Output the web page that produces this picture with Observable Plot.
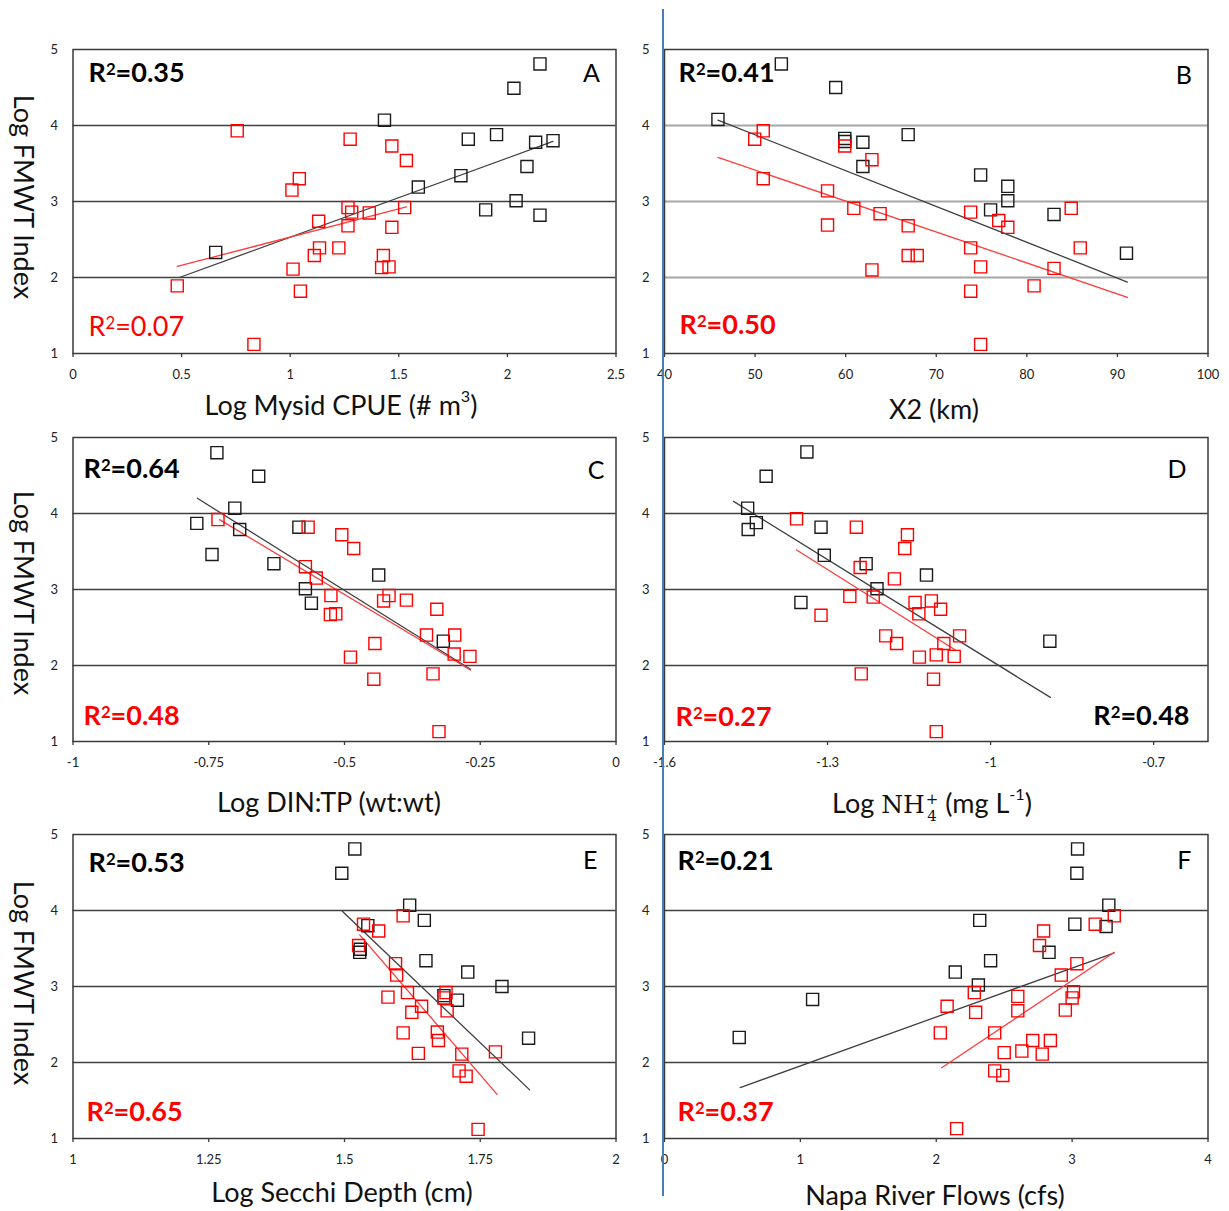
<!DOCTYPE html>
<html><head><meta charset="utf-8">
<script src="https://cdn.jsdelivr.net/npm/d3@7"></script>
<script src="https://cdn.jsdelivr.net/npm/@observablehq/plot@0.6"></script>
<style>
body{margin:0;background:#fff;}
#fig{position:relative;width:1229px;height:1211px;background:#fff;font-family:Lato,"Open Sans",sans-serif;overflow:hidden}
.xt{position:absolute;font-size:27px;color:#111;white-space:nowrap;transform:translate(-50%,-50%);line-height:1}
.yt{position:absolute;font-size:27px;color:#111;white-space:nowrap;transform:translate(-50%,-50%) rotate(90deg);line-height:1}
.xt sup{font-size:0.6em;vertical-align:0.75em;line-height:0}
.m{font-family:"DejaVu Serif","Liberation Serif",serif;font-size:25px}
.ss{display:inline-block;vertical-align:-0.5em;font-size:0.6em;line-height:1.1;text-align:center;margin-left:1px}
.ss span{display:block}
#vline{position:absolute;left:661.7px;top:9px;width:2px;height:1187px;background:#4a7ebb}
</style></head><body><div id="fig"></div><script>
// ---------------- data ----------------
const yTicks = [1, 2, 3, 4, 5];
const gridY = [2, 3, 4];

// Panel A: Log Mysid CPUE
const aXTicks = [0, 0.5, 1, 1.5, 2, 2.5];
const aBlackX = [2.15, 2.03, 1.434, 1.82, 1.95, 2.13, 2.21, 2.09, 1.786, 1.59, 2.04, 1.90, 2.15, 0.657];
const aBlackY = [4.81, 4.49, 4.07, 3.82, 3.88, 3.78, 3.80, 3.46, 3.34, 3.19, 3.01, 2.89, 2.82, 2.33];
const aRedX = [0.756, 1.276, 1.468, 1.535, 1.042, 1.008, 1.266, 1.283, 1.364, 1.527, 1.131, 1.266, 1.468, 1.135, 1.224, 1.111, 1.429, 1.013, 1.421, 1.455, 0.480, 1.047, 0.833];
const aRedY = [3.93, 3.82, 3.73, 3.54, 3.30, 3.15, 2.92, 2.86, 2.85, 2.92, 2.74, 2.68, 2.66, 2.39, 2.39, 2.29, 2.29, 2.11, 2.13, 2.14, 1.89, 1.82, 1.12];
const aBlackFitX = [0.49, 2.21], aBlackFitY = [2.00, 3.79];
const aRedFitX = [0.48, 1.535], aRedFitY = [2.145, 2.93];
const aR2 = ["R²=0.35", "R²=0.07"];

// Panel B: X2 (km)
const bXTicks = [40, 50, 60, 70, 80, 90, 100];
const bBlackX = [52.9, 58.9, 45.9, 59.9, 59.9, 61.9, 66.9, 61.9, 74.9, 77.9, 77.9, 76.0, 83.0, 91.0];
const bBlackY = [4.81, 4.50, 4.08, 3.83, 3.79, 3.78, 3.88, 3.46, 3.35, 3.20, 3.01, 2.89, 2.83, 2.32];
const bRedX = [50.9, 49.96, 59.9, 62.9, 50.9, 58.0, 60.9, 63.8, 58.0, 66.9, 73.8, 76.9, 77.9, 84.9, 73.8, 85.9, 66.9, 67.9, 74.9, 62.9, 83.0, 80.8, 73.8, 74.9];
const bRedY = [3.93, 3.82, 3.73, 3.55, 3.30, 3.14, 2.91, 2.84, 2.69, 2.68, 2.86, 2.75, 2.66, 2.91, 2.39, 2.39, 2.29, 2.29, 2.14, 2.10, 2.12, 1.89, 1.82, 1.12];
const bBlackFitX = [45.9, 91.1], bBlackFitY = [4.07, 1.94];
const bRedFitX = [45.9, 91.1], bRedFitY = [3.58, 1.74];
const bR2 = ["R²=0.41", "R²=0.50"];

// Panel C: Log DIN:TP
const cXTicks = [-1, -0.75, -0.5, -0.25, 0];
const cBlackX = [-0.735, -0.658, -0.702, -0.772, -0.693, -0.584, -0.744, -0.630, -0.437, -0.572, -0.561, -0.318];
const cBlackY = [4.80, 4.49, 4.07, 3.87, 3.79, 3.82, 3.46, 3.34, 3.19, 3.01, 2.82, 2.32];
const cRedX = [-0.733, -0.567, -0.505, -0.483, -0.572, -0.552, -0.525, -0.418, -0.428, -0.386, -0.330, -0.526, -0.516, -0.349, -0.297, -0.444, -0.489, -0.298, -0.269, -0.337, -0.446, -0.326];
const cRedY = [3.92, 3.82, 3.72, 3.54, 3.30, 3.15, 2.92, 2.92, 2.85, 2.86, 2.74, 2.67, 2.68, 2.40, 2.40, 2.29, 2.11, 2.15, 2.12, 1.89, 1.82, 1.13];
const cBlackFitX = [-0.771, -0.268], cBlackFitY = [4.20, 1.95];
const cRedFitX = [-0.73, -0.268], cRedFitY = [3.92, 1.94];
const cR2 = ["R²=0.64", "R²=0.48"];

// Panel D: Log NH4+
const dXTicks = [-1.6, -1.3, -1, -0.7];
const dBlackX = [-1.338, -1.413, -1.447, -1.431, -1.446, -1.312, -1.306, -1.229, -1.118, -1.209, -1.349, -0.891];
const dBlackY = [4.81, 4.49, 4.07, 3.88, 3.79, 3.82, 3.45, 3.34, 3.19, 3.01, 2.83, 2.32];
const dRedX = [-1.357, -1.247, -1.153, -1.158, -1.240, -1.177, -1.259, -1.216, -1.139, -1.109, -1.092, -1.132, -1.312, -1.193, -1.173, -1.057, -1.086, -1.100, -1.131, -1.067, -1.238, -1.105, -1.100];
const dRedY = [3.93, 3.82, 3.72, 3.54, 3.29, 3.14, 2.91, 2.90, 2.83, 2.85, 2.74, 2.68, 2.66, 2.39, 2.29, 2.39, 2.29, 2.14, 2.11, 2.12, 1.89, 1.82, 1.13];
const dBlackFitX = [-1.473, -0.890], dBlackFitY = [4.16, 1.58];
const dRedFitX = [-1.357, -1.064], dRedFitY = [3.52, 2.20];
const dR2 = ["R²=0.48", "R²=0.27"];

// Panel E: Log Secchi Depth
const eXTicks = [1, 1.25, 1.5, 1.75, 2];
const eBlackX = [1.519, 1.495, 1.620, 1.647, 1.543, 1.528, 1.529, 1.650, 1.727, 1.790, 1.708, 1.683, 1.839];
const eBlackY = [4.81, 4.49, 4.07, 3.87, 3.80, 3.45, 3.49, 3.34, 3.19, 3.00, 2.82, 2.88, 2.32];
const eRedX = [1.608, 1.535, 1.563, 1.526, 1.594, 1.596, 1.616, 1.687, 1.683, 1.580, 1.642, 1.689, 1.624, 1.671, 1.673, 1.608, 1.636, 1.716, 1.778, 1.711, 1.724, 1.746];
const eRedY = [3.93, 3.82, 3.73, 3.54, 3.30, 3.15, 2.92, 2.92, 2.85, 2.86, 2.74, 2.68, 2.66, 2.40, 2.29, 2.39, 2.12, 2.11, 2.14, 1.89, 1.82, 1.12];
const eBlackFitX = [1.496, 1.841], eBlackFitY = [3.99, 1.64];
const eRedFitX = [1.528, 1.781], eRedFitY = [3.68, 1.58];
const eR2 = ["R²=0.53", "R²=0.65"];

// Panel F: Napa River Flows
const fXTicks = [0, 1, 2, 3, 4];
const fBlackX = [3.04, 3.035, 3.27, 2.32, 3.02, 3.25, 2.83, 2.40, 2.14, 2.31, 1.09, 0.55];
const fBlackY = [4.81, 4.49, 4.07, 3.87, 3.82, 3.79, 3.45, 3.34, 3.19, 3.02, 2.83, 2.33];
const fRedX = [3.31, 3.17, 2.79, 2.76, 3.035, 2.92, 2.28, 3.01, 2.60, 3.00, 2.08, 2.29, 2.60, 2.95, 2.03, 2.43, 2.71, 2.84, 2.50, 2.63, 2.78, 2.43, 2.49, 2.15];
const fRedY = [3.93, 3.82, 3.73, 3.54, 3.30, 3.15, 2.92, 2.93, 2.87, 2.85, 2.74, 2.66, 2.68, 2.69, 2.39, 2.39, 2.29, 2.29, 2.13, 2.15, 2.11, 1.89, 1.83, 1.13];
const fBlackFitX = [0.557, 3.307], fBlackFitY = [1.67, 3.44];
const fRedFitX = [2.04, 3.31], fRedFitY = [1.93, 3.45];
const fR2 = ["R²=0.21", "R²=0.37"];

const panelLetters = ["A", "B", "C", "D", "E", "F"];
const yTitle = "Log FMWT Index";

// ---------------- layout / drawing ----------------
const zip = (xs, ys) => xs.map((x, i) => ({x, y: ys[i]}));
const RED = "#ff0000";
const fig = document.getElementById("fig");
const PH = 304;
const cols = [
  {left: 72.5, right: 615.5, svgLeft: 0, svgW: 640},
  {left: 664, right: 1207.5, svgLeft: 630, svgW: 599}
];
const rows = [48.5, 437, 833.5];

function superscriptR2(svg) {
  d3.select(svg).selectAll("text").each(function () {
    const t = this.textContent;
    if (t.indexOf("²") < 0) return;
    const [pre, post] = t.split("²");
    const sel = d3.select(this);
    sel.text(null);
    sel.append("tspan").text(pre);
    sel.append("tspan").attr("dy", "-0.42em").attr("font-size", "0.62em").text("2");
    sel.append("tspan").attr("dy", "0.26em").text(post);
  });
}

function panel(p) {
  const c = cols[p.col], top = rows[p.row];
  const mT = 20, mB = 40;
  const labelMarks = p.labels.map(l => Plot.text([l.t], {
    text: d => d, frameAnchor: l.a, dx: l.dx, dy: l.dy,
    textAnchor: l.ta || "start", lineAnchor: "middle",
    fill: l.c, fontWeight: l.w, fontSize: l.fs || 27
  }));
  const chart = Plot.plot({
    width: c.svgW, height: mT + PH + mB,
    marginTop: mT, marginBottom: mB,
    marginLeft: c.left - c.svgLeft, marginRight: c.svgLeft + c.svgW - c.right,
    x: {domain: p.xDomain},
    y: {domain: [1, 5]},
    style: {fontFamily: "Lato, 'Open Sans', sans-serif", fontSize: "13px", color: "#222", background: "transparent", overflow: "visible"},
    marks: [
      Plot.ruleY(gridY, {stroke: p.grid, strokeWidth: p.gridW}),
      Plot.frame({stroke: "#3a3a3a", strokeWidth: 1.5}),
      Plot.axisX({ticks: p.xTicks, tickFormat: d => String(d), tickSize: 4, tickPadding: 12, label: null, stroke: "#3a3a3a", strokeWidth: 1.3, fontSize: 13, fill: "#222"}),
      Plot.axisY({ticks: yTicks, tickFormat: d => String(d), tickSize: 0, tickPadding: 15, label: null, fontSize: 13, fill: "#222"}),
      Plot.line(zip(p.bfx, p.bfy), {x: "x", y: "y", stroke: "#404040", strokeWidth: 1.3}),
      Plot.line(zip(p.rfx, p.rfy), {x: "x", y: "y", stroke: "#ff3b3b", strokeWidth: 1.3}),
      Plot.dot(zip(p.bx, p.by), {x: "x", y: "y", symbol: "square", r: 6.8, fill: "none", stroke: "#1a1a1a", strokeWidth: 1.4}),
      Plot.dot(zip(p.rx, p.ry), {x: "x", y: "y", symbol: "square", r: 6.8, fill: "none", stroke: RED, strokeWidth: 1.4}),
      ...labelMarks
    ]
  });
  superscriptR2(chart);
  chart.style.position = "absolute";
  chart.style.left = c.svgLeft + "px";
  chart.style.top = (top - mT) + "px";
  fig.append(chart);
}

const DARK = "#404040", LIGHT = "#a6a6a6";
panel({col: 0, row: 0, xDomain: [0, 2.5], xTicks: aXTicks, grid: DARK, gridW: 1.7,
  bx: aBlackX, by: aBlackY, rx: aRedX, ry: aRedY, bfx: aBlackFitX, bfy: aBlackFitY, rfx: aRedFitX, rfy: aRedFitY,
  labels: [
    {t: aR2[0], a: "top-left", dx: 15.5, dy: 23.5, c: "#000", w: "bold"},
    {t: aR2[1], a: "bottom-left", dx: 15.5, dy: -26.5, c: RED, w: "normal"},
    {t: panelLetters[0], a: "top-right", dx: -16, dy: 24, c: "#000", w: "normal", ta: "end", fs: 25}
  ]});
panel({col: 1, row: 0, xDomain: [40, 100], xTicks: bXTicks, grid: LIGHT, gridW: 1.8,
  bx: bBlackX, by: bBlackY, rx: bRedX, ry: bRedY, bfx: bBlackFitX, bfy: bBlackFitY, rfx: bRedFitX, rfy: bRedFitY,
  labels: [
    {t: bR2[0], a: "top-left", dx: 14, dy: 23.5, c: "#000", w: "bold"},
    {t: bR2[1], a: "bottom-left", dx: 15, dy: -28.5, c: RED, w: "bold"},
    {t: panelLetters[1], a: "top-right", dx: -16, dy: 26.5, c: "#000", w: "normal", ta: "end", fs: 25}
  ]});
panel({col: 0, row: 1, xDomain: [-1, 0], xTicks: cXTicks, grid: DARK, gridW: 1.7,
  bx: cBlackX, by: cBlackY, rx: cRedX, ry: cRedY, bfx: cBlackFitX, bfy: cBlackFitY, rfx: cRedFitX, rfy: cRedFitY,
  labels: [
    {t: cR2[0], a: "top-left", dx: 10.5, dy: 32, c: "#000", w: "bold"},
    {t: cR2[1], a: "bottom-left", dx: 10.5, dy: -25, c: RED, w: "bold"},
    {t: panelLetters[2], a: "top-right", dx: -11.5, dy: 33, c: "#000", w: "normal", ta: "end", fs: 25}
  ]});
panel({col: 1, row: 1, xDomain: [-1.6, -0.6], xTicks: dXTicks, grid: DARK, gridW: 1.7,
  bx: dBlackX, by: dBlackY, rx: dRedX, ry: dRedY, bfx: dBlackFitX, bfy: dBlackFitY, rfx: dRedFitX, rfy: dRedFitY,
  labels: [
    {t: dR2[1], a: "bottom-left", dx: 11, dy: -24, c: RED, w: "bold"},
    {t: dR2[0], a: "bottom-right", dx: -18.5, dy: -25, c: "#000", w: "bold", ta: "end"},
    {t: panelLetters[3], a: "top-right", dx: -21.5, dy: 32, c: "#000", w: "normal", ta: "end", fs: 25}
  ]});
panel({col: 0, row: 2, xDomain: [1, 2], xTicks: eXTicks, grid: DARK, gridW: 1.7,
  bx: eBlackX, by: eBlackY, rx: eRedX, ry: eRedY, bfx: eBlackFitX, bfy: eBlackFitY, rfx: eRedFitX, rfy: eRedFitY,
  labels: [
    {t: eR2[0], a: "top-left", dx: 15.5, dy: 28.5, c: "#000", w: "bold"},
    {t: eR2[1], a: "bottom-left", dx: 13.5, dy: -26.5, c: RED, w: "bold"},
    {t: panelLetters[4], a: "top-right", dx: -18.5, dy: 26.5, c: "#000", w: "normal", ta: "end", fs: 25}
  ]});
panel({col: 1, row: 2, xDomain: [0, 4], xTicks: fXTicks, grid: DARK, gridW: 1.7,
  bx: fBlackX, by: fBlackY, rx: fRedX, ry: fRedY, bfx: fBlackFitX, bfy: fBlackFitY, rfx: fRedFitX, rfy: fRedFitY,
  labels: [
    {t: fR2[0], a: "top-left", dx: 13, dy: 26.5, c: "#000", w: "bold"},
    {t: fR2[1], a: "bottom-left", dx: 13, dy: -26.5, c: RED, w: "bold"},
    {t: panelLetters[5], a: "top-right", dx: -16.5, dy: 26.5, c: "#000", w: "normal", ta: "end", fs: 25}
  ]});

// axis titles
function addTitle(html, x, y, cls) {
  const d = document.createElement("div");
  d.className = cls;
  d.innerHTML = html;
  d.style.left = x + "px";
  d.style.top = y + "px";
  fig.append(d);
}
addTitle("Log Mysid CPUE (# m<sup>3</sup>)", 341, 404, "xt");
addTitle("X2 (km)", 934, 408, "xt");
addTitle("Log DIN:TP (wt:wt)", 329, 801, "xt");
addTitle('Log <span class="m">NH<span class="ss"><span>+</span><span>4</span></span></span> (mg L<sup>-1</sup>)', 932, 806, "xt");
addTitle("Log Secchi Depth (cm)", 342, 1191, "xt");
addTitle("Napa River Flows (cfs)", 935, 1194, "xt");
[197, 593, 983].forEach(y => addTitle(yTitle, 24, y, "yt"));

const vl = document.createElement("div");
vl.id = "vline";
fig.append(vl);
</script></body></html>
